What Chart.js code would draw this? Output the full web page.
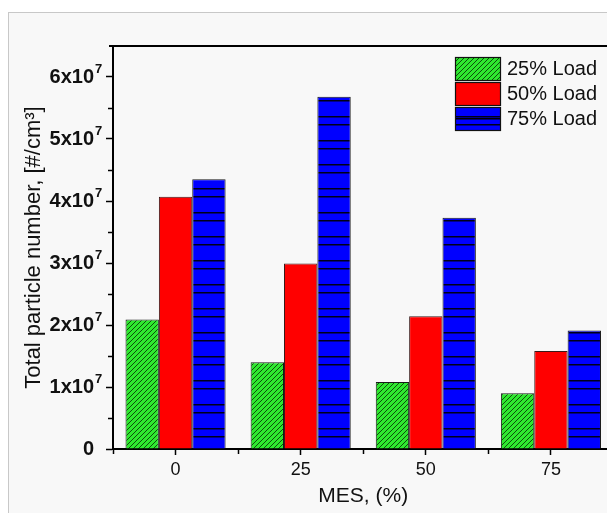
<!DOCTYPE html>
<html><head><meta charset="utf-8">
<script src="https://cdn.jsdelivr.net/npm/chart.js@4.4.1/dist/chart.umd.min.js"></script>
<style>
html,body{margin:0;padding:0;background:#fff;overflow:hidden;width:607px;height:513px;}
#frame{position:absolute;left:8px;top:12px;width:640px;height:520px;border-top:1px solid #c8c8c8;border-left:1px solid #c8c8c8;background:#f8f8f8;}
#wrap{position:absolute;left:0;top:0;width:620px;height:500px;}
</style></head><body>
<div id="frame"><div id="wrap"><canvas id="c" width="620" height="500"></canvas></div></div>
<script>
const categories = ['0', '25', '50', '75'];
const load25 = [2.09e7, 1.40e7, 1.08e7, 0.90e7];
const load50 = [4.07e7, 2.99e7, 2.14e7, 1.58e7];
const load75 = [4.35e7, 5.68e7, 3.73e7, 1.91e7];
const seriesLabels = ['25% Load', '50% Load', '75% Load'];
const yTickValues = [0, 1e7, 2e7, 3e7, 4e7, 5e7, 6e7];
const yMinorValues = [0.5e7, 1.5e7, 2.5e7, 3.5e7, 4.5e7, 5.5e7];
const yExponent = '7';
const xTitle = 'MES, (%)';
const yTitle = 'Total particle number, [#/cm\u00B3]';

const FONT = "'Liberation Sans', Arial, sans-serif";

function hatchGreen() {
  const c = document.createElement('canvas'); c.width = 5; c.height = 5;
  const g = c.getContext('2d');
  g.fillStyle = '#2fe82f'; g.fillRect(0, 0, 5, 5);
  g.strokeStyle = '#0b4f0b'; g.lineWidth = 1;
  g.beginPath();
  g.moveTo(-1, 6); g.lineTo(6, -1);
  g.moveTo(-6, 6); g.lineTo(1, -1);
  g.moveTo(4, 6); g.lineTo(11, -1);
  g.stroke();
  return g.createPattern(c, 'repeat');
}
function hatchBlue() {
  const c = document.createElement('canvas'); c.width = 8; c.height = 24;
  const g = c.getContext('2d');
  g.fillStyle = '#0000ff'; g.fillRect(0, 0, 8, 24);
  g.fillStyle = '#000018';
  g.fillRect(0, 7, 8, 1.5);
  g.fillRect(0, 15, 8, 1.5);
  return g.createPattern(c, 'repeat');
}
const fills = [hatchGreen(), '#ff0000', hatchBlue()];

const TICK_LEN = 7, TICK_PAD = 12;

const extras = {
  id: 'extras',
  afterDraw(chart) {
    const ctx = chart.ctx, a = chart.chartArea;
    const xs = chart.scales.x, ys = chart.scales.y;
    ctx.save();
    ctx.strokeStyle = '#000';
    // top frame
    ctx.lineWidth = 2;
    ctx.beginPath(); ctx.moveTo(a.left - 4, a.top); ctx.lineTo(a.right + 10, a.top); ctx.stroke();
    // minor y ticks
    ctx.lineWidth = 1.5;
    yMinorValues.forEach(v => {
      const y = Math.round(ys.getPixelForValue(v)) + 0.5;
      ctx.beginPath(); ctx.moveTo(a.left - 5, y); ctx.lineTo(a.left, y); ctx.stroke();
    });
    // minor x ticks at category boundaries
    const step = xs.getPixelForValue(1) - xs.getPixelForValue(0);
    for (let i = 0; i <= categories.length; i++) {
      const x = Math.round(xs.getPixelForValue(0) - step / 2 + i * step) + 0.5;
      ctx.beginPath(); ctx.moveTo(x, a.bottom); ctx.lineTo(x, a.bottom + 5); ctx.stroke();
    }
    // exponent superscripts on y tick labels
    ctx.font = 'bold 13px ' + FONT;
    ctx.fillStyle = '#111';
    ctx.textAlign = 'left';
    ctx.textBaseline = 'middle';
    yTickValues.forEach(v => {
      if (v === 0) return;
      const y = ys.getPixelForValue(v);
      ctx.fillText(yExponent, a.left - TICK_LEN - TICK_PAD + 1, y - 8);
    });
    // legend
    const lx = 446, ly = 44, bw = 45, bh = 23, gap = 25;
    ctx.font = '20px ' + FONT;
    ctx.textBaseline = 'middle';
    chart.data.datasets.forEach((ds, i) => {
      const y = ly + i * gap;
      ctx.fillStyle = ds.backgroundColor;
      ctx.fillRect(lx, y, bw, bh);
      if (i === 2) {
        ctx.fillStyle = '#000';
        ctx.fillRect(lx, y + Math.round(bh / 2) - 1, bw, 1.5);
      }
      ctx.lineWidth = 1.2; ctx.strokeStyle = '#111';
      ctx.strokeRect(lx + 0.5, y + 0.5, bw, bh);
      ctx.fillStyle = '#111';
      ctx.fillText(ds.label, lx + bw + 7, y + bh / 2 + 1);
    });
    ctx.restore();
  }
};

new Chart(document.getElementById('c'), {
  type: 'bar',
  data: {
    labels: categories,
    datasets: [
      { label: seriesLabels[0], data: load25, backgroundColor: fills[0], borderColor: '#1a1a1a', borderWidth: 1 },
      { label: seriesLabels[1], data: load50, backgroundColor: fills[1], borderColor: '#3a1a1a', borderWidth: 1 },
      { label: seriesLabels[2], data: load75, backgroundColor: fills[2], borderColor: '#1a1a1a', borderWidth: 1 }
    ]
  },
  options: {
    responsive: false,
    animation: false,
    devicePixelRatio: 1,
    layout: { padding: { top: 33, right: 15.5, left: 0, bottom: 0 } },
    datasets: { bar: { categoryPercentage: 0.8, barPercentage: 1.0 } },
    plugins: { legend: { display: false }, tooltip: { enabled: false } },
    scales: {
      x: {
        grid: { display: true, drawOnChartArea: false, offset: false, tickLength: 6, tickColor: '#000', tickWidth: 1.5 },
        border: { color: '#000', width: 2 },
        ticks: { font: { family: FONT, size: 18 }, color: '#111', padding: 4 },
        title: { display: true, text: xTitle, font: { family: FONT, size: 21 }, color: '#111', padding: { top: 0, bottom: 4 } },
        afterFit: s => { s.height = 64; }
      },
      y: {
        min: 0, max: 6.5e7,
        afterBuildTicks: s => { s.ticks = yTickValues.map(v => ({ value: v })); },
        grid: { display: true, drawOnChartArea: false, tickLength: TICK_LEN, tickColor: '#000', tickWidth: 1.5 },
        border: { color: '#000', width: 2 },
        ticks: {
          font: { family: FONT, size: 20, weight: 'bold' }, color: '#111', padding: TICK_PAD,
          callback: v => v === 0 ? '0' : (Math.round(v / 1e7) + 'x10')
        },
        title: { display: true, text: yTitle, font: { family: FONT, size: 22 }, color: '#111', padding: { top: 12, bottom: 0 } },
        afterFit: s => { s.width = 104; }
      }
    }
  },
  plugins: [extras]
});
</script>
</body></html>
